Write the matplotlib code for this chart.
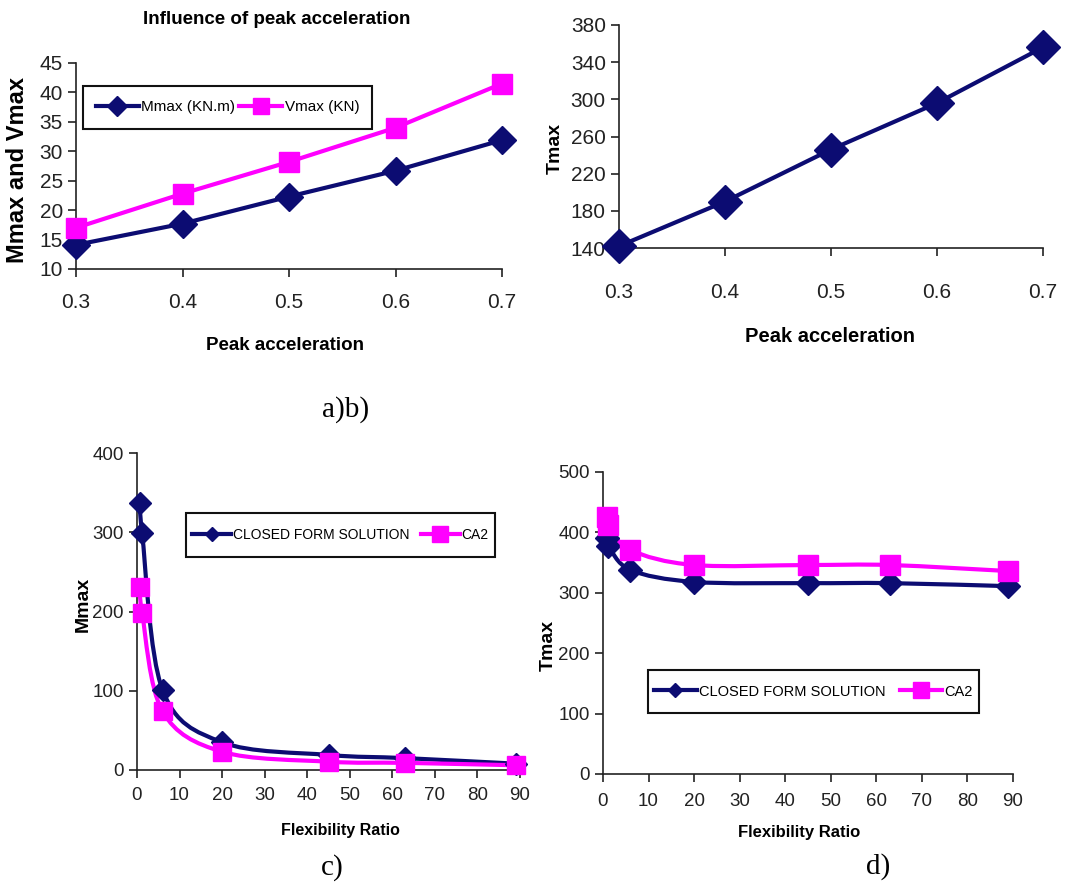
import numpy as np
import matplotlib
matplotlib.use("Agg")
import matplotlib.pyplot as plt
from matplotlib.path import Path
from matplotlib.patches import PathPatch, Rectangle

plt.rcParams['font.family'] = ['Liberation Sans', 'DejaVu Sans']

NAVY = '#0c0c72'
PINK = '#ff00ff'

# peak acceleration study
accel = [0.3, 0.4, 0.5, 0.6, 0.7]
mmax_acc = [14.1, 17.7, 22.3, 26.7, 31.9]
vmax_acc = [17.0, 22.8, 28.2, 34.0, 41.5]
tmax_acc = [142, 190, 246, 296, 356]

# flexibility ratio study
flex = [0.8, 1.2, 6, 20, 45, 63, 89]
mmax_closed = [337, 299, 101, 35, 19, 15, 8]
mmax_ca2 = [231, 198, 74, 23, 10.5, 9, 6]
tmax_closed = [390, 378, 338, 318, 316, 316, 311]
tmax_ca2 = [426, 412, 371, 346, 346, 346, 336]

W, H = 1087, 884
fig = plt.figure(figsize=(W / 100, H / 100), dpi=100)


def px_axes(x0, y0, x1, y1):
    # axes from pixel box (left, top, right, bottom)
    return fig.add_axes([x0 / W, 1 - y1 / H, (x1 - x0) / W, (y1 - y0) / H])


def px_text(x, y, s, **kw):
    fig.text(x / W, 1 - y / H, s, ha='center', va='center', **kw)


def style(ax, tick_size):
    for side in ['top', 'right']:
        ax.spines[side].set_visible(False)
    for side in ['left', 'bottom']:
        ax.spines[side].set_linewidth(1.2)
        ax.spines[side].set_color('#222222')
    ax.tick_params(direction='out', length=6, width=1.2, colors='#222222',
                   labelsize=tick_size, labelcolor='#222222')


def boxed_legend(ax, x0, y0, x1, y1, size, **kw):
    # wide, flat frame drawn by hand, legend entries centred inside it
    ax.add_patch(Rectangle((x0 / W, 1 - y1 / H), (x1 - x0) / W, (y1 - y0) / H,
                           transform=fig.transFigure, facecolor='white', clip_on=False,
                           edgecolor='#111111', lw=1.5, zorder=4.5))
    leg = ax.legend(loc='center', bbox_to_anchor=((x0 + x1) / 2 / W, 1 - (y0 + y1) / 2 / H),
                    bbox_transform=fig.transFigure, ncol=2, fontsize=size, frameon=False,
                    borderaxespad=0, borderpad=0, handletextpad=0.15, **kw)
    leg.set_zorder(6)
    return leg


def smooth_line(ax, x, y, color, lw):
    # Catmull-Rom style bezier through the points, like a spreadsheet "smoothed line"
    p = np.column_stack([x, y]).astype(float)
    ext = np.vstack([p[0], p, p[-1]])
    verts = [p[0]]
    codes = [Path.MOVETO]
    for i in range(len(p) - 1):
        c1 = ext[i + 1] + (ext[i + 2] - ext[i]) / 6
        c2 = ext[i + 2] - (ext[i + 3] - ext[i + 1]) / 6
        verts += [c1, c2, ext[i + 2]]
        codes += [Path.CURVE4] * 3
    ax.add_patch(PathPatch(Path(verts, codes), facecolor='none', edgecolor=color,
                           lw=lw, capstyle='round', joinstyle='round'))


# a) moments and shear vs peak acceleration
ax = px_axes(76, 63, 502, 269)
style(ax, 15)
ax.plot(accel, mmax_acc, color=NAVY, lw=3, marker='D', ms=14, label='Mmax (KN.m)', clip_on=False, zorder=3)
ax.plot(accel, vmax_acc, color=PINK, lw=3, marker='s', ms=15, label='Vmax (KN)', clip_on=False, zorder=3)
ax.set_xlim(0.3, 0.7)
ax.set_ylim(10, 45)
ax.set_xticks(accel)
ax.set_xticklabels(['0.3', '0.4', '0.5', '0.6', '0.7'])
ax.set_yticks(range(10, 46, 5))
ax.tick_params(axis='x', pad=11)
boxed_legend(ax, 83, 86, 372, 129, 11, handlelength=2.8, columnspacing=0.3, markerscale=0.75)
px_text(277, 20, 'Influence of peak acceleration', fontsize=13.5, fontweight='bold')
px_text(285, 345, 'Peak acceleration', fontsize=13.5, fontweight='bold')
px_text(18, 170, 'Mmax and Vmax', fontsize=17, fontweight='bold', rotation=90)

# b) torque vs peak acceleration
ax = px_axes(619, 25, 1043, 248)
style(ax, 15)
ax.plot(accel, tmax_acc, color=NAVY, lw=3, marker='D', ms=17, clip_on=False, zorder=3)
ax.set_xlim(0.3, 0.7)
ax.set_ylim(140, 380)
ax.set_xticks(accel)
ax.set_xticklabels(['0.3', '0.4', '0.5', '0.6', '0.7'])
ax.set_yticks(range(140, 381, 40))
ax.tick_params(axis='x', pad=19)
px_text(830, 337, 'Peak acceleration', fontsize=14.5, fontweight='bold')
px_text(555, 148, 'Tmax', fontsize=14, fontweight='bold', rotation=90)

px_text(346, 410, 'a)b)', fontsize=21, family='Liberation Serif')

# c) Mmax vs flexibility ratio
ax = px_axes(137, 453, 520, 770)
style(ax, 13.5)
smooth_line(ax, flex, mmax_closed, NAVY, 3)
smooth_line(ax, flex, mmax_ca2, PINK, 3)
ax.plot(flex, mmax_closed, ls='none', color=NAVY, marker='D', ms=11, clip_on=False, zorder=3)
ax.plot(flex, mmax_ca2, ls='none', color=PINK, marker='s', ms=13, clip_on=False, zorder=4)
ax.plot([], [], color=NAVY, lw=3, marker='D', ms=7, label='CLOSED FORM SOLUTION')
ax.plot([], [], color=PINK, lw=3, marker='s', ms=11, label='CA2')
ax.set_xlim(0, 90)
ax.set_ylim(0, 400)
ax.set_xticks(range(0, 91, 10))
ax.set_yticks(range(0, 401, 100))
ax.tick_params(axis='x', pad=6)
boxed_legend(ax, 186, 513, 495, 557, 10, handlelength=2.8, columnspacing=0.8)
px_text(340, 830, 'Flexibility Ratio', fontsize=11.5, fontweight='bold')
px_text(83, 604, 'Mmax', fontsize=14, fontweight='bold', rotation=90)
px_text(332, 868, 'c)', fontsize=21, family='Liberation Serif')

# d) Tmax vs flexibility ratio
ax = px_axes(603, 472, 1013, 774)
style(ax, 13.5)
smooth_line(ax, flex, tmax_closed, NAVY, 3)
smooth_line(ax, flex, tmax_ca2, PINK, 3)
ax.plot(flex, tmax_closed, ls='none', color=NAVY, marker='D', ms=12, clip_on=False, zorder=3)
ax.plot(flex, tmax_ca2, ls='none', color=PINK, marker='s', ms=15, clip_on=False, zorder=4)
ax.plot([], [], color=NAVY, lw=3, marker='D', ms=7, label='CLOSED FORM SOLUTION')
ax.plot([], [], color=PINK, lw=3, marker='s', ms=12, label='CA2')
ax.set_xlim(0, 90)
ax.set_ylim(0, 500)
ax.set_xticks(range(0, 91, 10))
ax.set_yticks(range(0, 501, 100))
ax.tick_params(axis='x', pad=8)
boxed_legend(ax, 648, 670, 979, 713, 10.5, handlelength=2.9, columnspacing=1.0)
px_text(799, 832, 'Flexibility Ratio', fontsize=12, fontweight='bold')
px_text(548, 645, 'Tmax', fontsize=14, fontweight='bold', rotation=90)
px_text(878, 867, 'd)', fontsize=21, family='Liberation Serif')

fig.savefig('out.png', dpi=100, facecolor='white')
